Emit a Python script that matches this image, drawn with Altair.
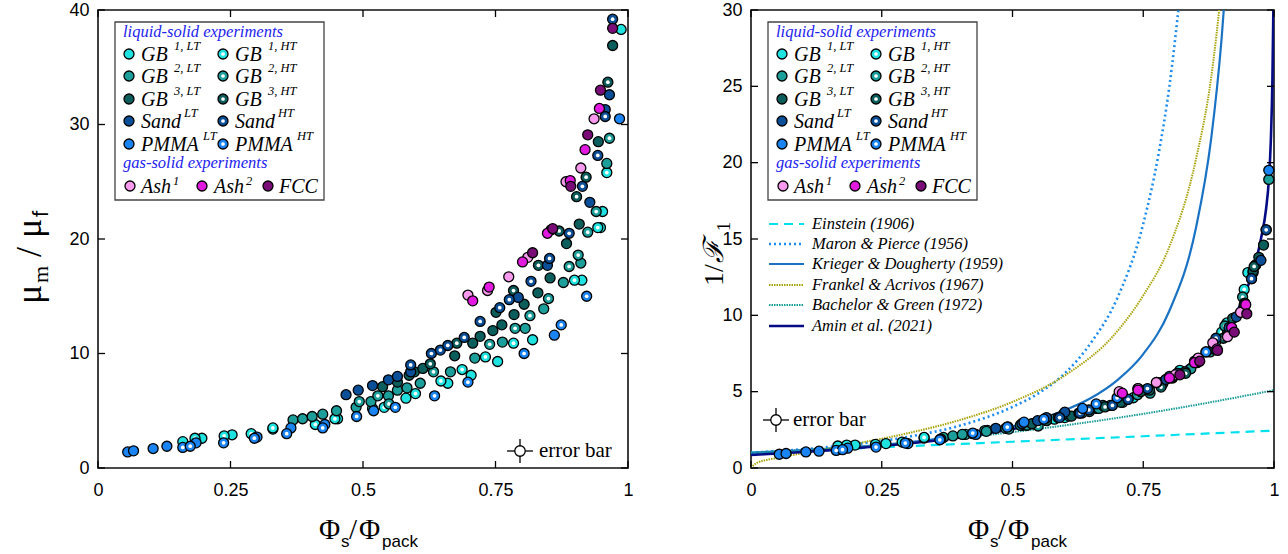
import altair as alt
import pandas as pd

SERIF = "Liberation Serif"
SANS = "Liberation Sans"

SERIES = ["GB1_LT", "GB1_HT", "GB2_LT", "GB2_HT", "GB3_LT", "GB3_HT",
          "Sand_LT", "Sand_HT", "PMMA_LT", "PMMA_HT", "Ash1", "Ash2", "FCC"]
FILLS = {"GB1_LT": "#1EE3E0", "GB1_HT": "#1EE3E0", "GB2_LT": "#1C9E9A", "GB2_HT": "#1C9E9A",
         "GB3_LT": "#0C5E5C", "GB3_HT": "#0C5E5C", "Sand_LT": "#0B4F98", "Sand_HT": "#0B4F98",
         "PMMA_LT": "#1A84F2", "PMMA_HT": "#1A84F2", "Ash1": "#F79AEE", "Ash2": "#E21ADF",
         "FCC": "#7A0C78"}

# ---------------- left panel: mu_m / mu_f ----------------
L_GB1_LT = [(0.16, 2.3), (0.196, 2.6), (0.253, 2.9), (0.33, 3.4), (0.452, 4.3), (0.518, 5.2),
            (0.581, 6.1), (0.66, 7.4), (0.704, 8.1), (0.754, 9.3), (0.82, 11.2), (0.913, 16.4),
            (0.948, 21.0), (0.952, 22.4), (0.987, 38.3)]
L_GB1_HT = [(0.183, 2.6), (0.238, 2.8), (0.289, 3.0), (0.33, 3.5), (0.41, 3.8), (0.447, 4.3),
            (0.54, 5.3), (0.599, 6.5), (0.647, 7.6), (0.687, 8.6), (0.731, 9.7), (0.784, 10.9),
            (0.899, 16.4), (0.943, 21.0), (0.96, 25.8)]
L_GB2_LT = [(0.368, 4.2), (0.386, 4.3), (0.404, 4.5), (0.424, 4.7), (0.45, 5.0), (0.487, 5.3),
            (0.515, 5.8), (0.548, 6.3), (0.565, 6.8), (0.583, 7.0), (0.608, 7.4), (0.665, 8.4),
            (0.711, 9.6), (0.763, 11.0), (0.806, 12.2), (0.841, 13.9), (0.878, 16.2),
            (0.911, 17.9), (0.96, 26.6)]
L_GB2_HT = [(0.493, 5.8), (0.528, 6.3), (0.549, 5.6), (0.633, 8.4), (0.739, 10.8), (0.787, 12.2),
            (0.815, 13.3), (0.85, 14.8), (0.889, 17.6), (0.906, 18.6), (0.924, 20.6), (0.94, 22.4),
            (0.965, 28.8)]
L_GB3_LT = [(0.537, 7.1), (0.565, 7.5), (0.587, 8.1), (0.597, 8.4), (0.613, 8.7), (0.673, 9.8),
            (0.707, 10.9), (0.721, 11.5), (0.745, 12.0), (0.751, 13.6), (0.762, 12.5), (0.785, 13.4),
            (0.804, 14.3), (0.83, 15.3), (0.853, 16.6), (0.884, 19.6), (0.908, 21.3), (0.944, 28.5),
            (0.971, 36.9)]
L_GB3_HT = [(0.627, 9.1), (0.677, 10.9), (0.784, 15.5), (0.831, 17.7), (0.87, 20.7), (0.903, 23.7),
            (0.921, 25.4), (0.962, 33.7)]
L_SAND_LT = [(0.468, 6.4), (0.491, 6.8), (0.518, 7.2), (0.548, 7.7), (0.565, 8.0), (0.59, 8.4),
             (0.793, 14.9), (0.848, 17.7), (0.928, 23.2), (0.957, 31.3), (0.965, 32.6)]
L_SAND_HT = [(0.59, 9.0), (0.629, 10.0), (0.646, 10.3), (0.66, 10.7), (0.691, 11.4), (0.721, 12.8),
             (0.758, 14.0), (0.776, 14.7), (0.817, 16.3), (0.852, 18.3), (0.889, 20.5), (0.914, 24.6),
             (0.943, 27.3), (0.957, 30.7), (0.971, 39.2)]
L_PMMA_LT = [(0.056, 1.4), (0.067, 1.5), (0.104, 1.7), (0.13, 1.9), (0.185, 2.2), (0.30, 2.7),
             (0.364, 3.5), (0.428, 3.8), (0.52, 5.0), (0.861, 11.6), (0.984, 30.5)]
L_PMMA_HT = [(0.16, 1.8), (0.174, 1.9), (0.237, 2.2), (0.295, 2.6), (0.356, 3.0), (0.424, 3.5),
             (0.488, 4.5), (0.561, 5.3), (0.635, 6.3), (0.698, 7.5), (0.804, 10.0), (0.874, 12.5),
             (0.922, 15.0)]
L_ASH1 = [(0.698, 15.1), (0.735, 15.5), (0.775, 16.7), (0.811, 18.4), (0.855, 20.8), (0.883, 25.0),
          (0.911, 26.2), (0.936, 30.5)]
L_ASH2 = [(0.707, 14.6), (0.738, 15.8), (0.801, 18.0), (0.848, 20.5), (0.891, 25.1), (0.919, 27.8),
          (0.946, 31.4)]
L_FCC = [(0.82, 18.8), (0.858, 20.9), (0.892, 24.6), (0.924, 29.1), (0.948, 33.0), (0.971, 38.4)]

LEFT = {"GB1_LT": L_GB1_LT, "GB1_HT": L_GB1_HT, "GB2_LT": L_GB2_LT, "GB2_HT": L_GB2_HT,
        "GB3_LT": L_GB3_LT, "GB3_HT": L_GB3_HT, "Sand_LT": L_SAND_LT, "Sand_HT": L_SAND_HT,
        "PMMA_LT": L_PMMA_LT, "PMMA_HT": L_PMMA_HT, "Ash1": L_ASH1, "Ash2": L_ASH2, "FCC": L_FCC}

# ---------------- right panel: 1/F1 ----------------
R_GB1_LT = [(0.166, 1.44), (0.199, 1.5), (0.258, 1.6), (0.331, 1.96), (0.452, 2.46), (0.52, 2.8),
            (0.58, 3.2), (0.66, 3.9), (0.70, 4.4), (0.82, 6.4), (0.91, 9.5), (0.95, 12.8), (0.965, 13.3)]
R_GB1_HT = [(0.183, 1.5), (0.238, 1.55), (0.289, 1.7), (0.331, 2.0), (0.41, 2.2), (0.447, 2.45),
            (0.54, 2.9), (0.6, 3.3), (0.647, 3.7), (0.687, 4.1), (0.731, 4.6), (0.784, 5.4),
            (0.9, 8.9), (0.943, 11.7)]
R_GB2_LT = [(0.368, 2.0), (0.386, 2.1), (0.404, 2.2), (0.424, 2.25), (0.45, 2.4), (0.487, 2.6),
            (0.515, 2.8), (0.548, 3.0), (0.565, 3.2), (0.608, 3.4), (0.665, 3.9), (0.711, 4.3),
            (0.763, 4.9), (0.806, 5.9), (0.841, 6.5), (0.878, 7.6), (0.911, 9.0), (0.96, 12.8),
            (0.99, 18.9)]
R_GB2_HT = [(0.493, 2.55), (0.528, 2.8), (0.549, 2.75), (0.633, 3.6), (0.739, 4.8), (0.787, 5.5),
            (0.815, 6.2), (0.85, 7.0), (0.889, 8.3), (0.906, 9.3), (0.94, 11.2), (0.965, 13.3)]
R_GB3_LT = [(0.537, 2.9), (0.565, 3.1), (0.587, 3.3), (0.597, 3.5), (0.613, 3.4), (0.673, 4.1),
            (0.707, 4.3), (0.721, 4.5), (0.745, 5.0), (0.762, 5.1), (0.785, 5.6), (0.804, 5.9),
            (0.83, 6.3), (0.853, 6.9), (0.884, 7.8), (0.908, 8.6), (0.944, 10.8), (0.96, 12.9),
            (0.971, 13.8), (0.98, 14.6)]
R_GB3_HT = [(0.627, 3.6), (0.677, 4.0), (0.784, 5.3), (0.831, 6.2), (0.87, 7.6), (0.903, 8.5),
            (0.921, 9.8), (0.962, 13.2), (0.985, 15.6)]
R_SAND_LT = [(0.468, 2.6), (0.491, 2.7), (0.518, 2.9), (0.548, 3.1), (0.565, 3.3), (0.6, 3.66),
             (0.793, 5.8), (0.848, 7.0), (0.928, 9.9), (0.957, 12.4), (0.975, 13.6)]
R_SAND_HT = [(0.59, 3.3), (0.629, 3.6), (0.646, 3.8), (0.691, 4.1), (0.721, 4.5), (0.758, 5.2),
             (0.776, 5.6), (0.817, 6.2), (0.852, 7.0), (0.889, 8.5), (0.914, 9.2), (0.943, 10.7),
             (0.957, 12.4), (0.985, 15.6)]
R_PMMA_LT = [(0.054, 0.9), (0.067, 0.95), (0.105, 1.05), (0.13, 1.1), (0.185, 1.3), (0.30, 1.6),
             (0.363, 1.9), (0.43, 2.2), (0.522, 3.0), (0.634, 3.9), (0.74, 5.2), (0.99, 19.5)]
R_PMMA_HT = [(0.163, 1.15), (0.175, 1.2), (0.239, 1.37), (0.295, 1.63), (0.361, 1.85), (0.424, 2.29),
             (0.49, 2.68), (0.56, 3.2), (0.66, 4.2), (0.70, 4.6), (0.8, 6.0), (0.87, 7.6)]
R_ASH1 = [(0.704, 5.0), (0.74, 5.2), (0.775, 5.6), (0.811, 6.1), (0.855, 7.2), (0.883, 8.2),
          (0.911, 8.6), (0.936, 10.2)]
R_ASH2 = [(0.71, 4.9), (0.74, 5.1), (0.80, 5.9), (0.848, 6.9), (0.891, 7.8), (0.919, 9.2), (0.946, 10.7)]
R_FCC = [(0.82, 6.1), (0.858, 7.0), (0.892, 7.7), (0.924, 8.9), (0.948, 10.1)]

RIGHT = {"GB1_LT": R_GB1_LT, "GB1_HT": R_GB1_HT, "GB2_LT": R_GB2_LT, "GB2_HT": R_GB2_HT,
         "GB3_LT": R_GB3_LT, "GB3_HT": R_GB3_HT, "Sand_LT": R_SAND_LT, "Sand_HT": R_SAND_HT,
         "PMMA_LT": R_PMMA_LT, "PMMA_HT": R_PMMA_HT, "Ash1": R_ASH1, "Ash2": R_ASH2, "FCC": R_FCC}

# model curves
C_EINSTEIN = [(0, 1.0), (0.25, 1.36), (0.5, 1.72), (0.75, 2.08), (1.0, 2.45)]
C_MARON = [(0, 1.0), (0.1, 1.23), (0.2, 1.56), (0.3, 2.04), (0.4, 2.78), (0.5, 4.0), (0.55, 4.9),
           (0.6, 6.2), (0.65, 8.2), (0.7, 11.1), (0.75, 16.0), (0.78, 20.7), (0.8, 25.0), (0.82, 30.9)]
C_KRIEGER = [(0, 1.0), (0.1, 1.17), (0.2, 1.38), (0.3, 1.68), (0.4, 2.1), (0.5, 2.73), (0.6, 3.78),
             (0.65, 4.58), (0.7, 5.74), (0.75, 7.46), (0.8, 10.3), (0.85, 15.6), (0.88, 21.6),
             (0.9, 28.2), (0.91, 32.8)]
C_FRANKEL = [(0, 0.0), (0.01, 0.31), (0.05, 0.66), (0.1, 0.97), (0.2, 1.59), (0.3, 2.28), (0.4, 3.15),
             (0.5, 4.33), (0.6, 6.06), (0.7, 8.94), (0.75, 11.3), (0.8, 14.5), (0.85, 20.1),
             (0.88, 25.6), (0.9, 31.5)]
C_BACHELOR = [(0, 1.0), (0.1, 1.16), (0.2, 1.37), (0.3, 1.64), (0.4, 1.97), (0.5, 2.35), (0.6, 2.79),
              (0.7, 3.28), (0.8, 3.83), (0.9, 4.44), (1.0, 5.1)]
C_AMIN = [(0, 0.85), (0.05, 0.95), (0.1, 1.05), (0.2, 1.3), (0.3, 1.6), (0.4, 2.0), (0.5, 2.55),
          (0.6, 3.3), (0.65, 3.8), (0.7, 4.3), (0.75, 5.0), (0.8, 5.9), (0.85, 7.1), (0.9, 8.8),
          (0.93, 10.3), (0.95, 11.9), (0.965, 13.5), (0.975, 15.0), (0.985, 17.0), (0.99, 18.8),
          (0.994, 21.5), (0.997, 25.5), (0.999, 30.5)]

CURVES = [  # name, points, color, dash, width
    ("Einstein (1906)", C_EINSTEIN, "#00E1EE", [9, 6], 2.2),
    ("Maron & Pierce (1956)", C_MARON, "#1C8CF0", [2, 3], 2.6),
    ("Krieger & Dougherty (1959)", C_KRIEGER, "#1A72C4", None, 2.2),
    ("Frankel & Acrivos (1967)", C_FRANKEL, "#A8A40E", [1.5, 1], 2.0),
    ("Bachelor & Green (1972)", C_BACHELOR, "#179C98", [1.5, 1], 2.0),
    ("Amin et al. (2021)", C_AMIN, "#050A85", None, 2.6),
]

X_TICKS = [0, 0.25, 0.5, 0.75, 1]
L_Y_TICKS = [0, 10, 20, 30, 40]
R_Y_TICKS = [0, 5, 10, 15, 20, 25, 30]

LEG_ITEMS = [  # series, main text, superscript, column, row, sup offset
    ("GB1_LT", "GB", "1, LT", 0, 0, 33), ("GB1_HT", "GB", "1, HT", 1, 0, 33),
    ("GB2_LT", "GB", "2, LT", 0, 1, 33), ("GB2_HT", "GB", "2, HT", 1, 1, 33),
    ("GB3_LT", "GB", "3, LT", 0, 2, 33), ("GB3_HT", "GB", "3, HT", 1, 2, 33),
    ("Sand_LT", "Sand", "LT", 0, 3, 43), ("Sand_HT", "Sand", "HT", 1, 3, 43),
    ("PMMA_LT", "PMMA", "LT", 0, 4, 62), ("PMMA_HT", "PMMA", "HT", 1, 4, 62),
]
GAS_ITEMS = [("Ash1", "Ash", "1", 32), ("Ash2", "Ash", "2", 32), ("FCC", "FCC", "", 0)]

ONE = pd.DataFrame({"k": [0]})
H = 458


def text_mark(txt, x, y, size, font=SERIF, style="normal", color="black", align="left",
              baseline="alphabetic", angle=0):
    return alt.Chart(ONE).mark_text(text=txt, font=font, fontSize=size, fontStyle=style, color=color,
                                    align=align, baseline=baseline, angle=angle).encode(
        x=alt.value(x), y=alt.value(y))


def rule_mark(x, x2, y, y2, color="black", width=1.3, dash=None):
    kw = dict(color=color, strokeWidth=width)
    if dash:
        kw["strokeDash"] = dash
    return alt.Chart(ONE).mark_rule(**kw).encode(x=alt.value(x), x2=alt.value(x2),
                                                 y=alt.value(y), y2=alt.value(y2))


def dot(x, y, fill, size, stroke=True):
    kw = dict(fill=fill, size=size, opacity=1)
    if stroke:
        kw.update(stroke="black", strokeWidth=1.3)
    return alt.Chart(ONE).mark_circle(**kw).encode(x=alt.value(x), y=alt.value(y))


def panel(data, W, ydom, yticks, curves, err, xt_x, ytitle, is_left):
    xs = alt.Scale(domain=[0, 1], nice=False, zero=False)
    ys = alt.Scale(domain=ydom, nice=False, zero=False)
    xax = alt.Axis(values=X_TICKS, format=".2~f", title=None, ticks=False, domain=False, grid=False,
                   labelFont=SANS, labelFontSize=18, labelColor="black", labelPadding=13,
                   labelFlush=False, labelOverlap=False)
    yax = alt.Axis(values=yticks, title=None, ticks=False, domain=False, grid=False,
                   labelFont=SANS, labelFontSize=18, labelColor="black", labelPadding=9,
                   labelOverlap=False)
    X = lambda f: alt.X(f + ":Q", scale=xs, axis=xax)
    Y = lambda f: alt.Y(f + ":Q", scale=ys, axis=yax)
    layers = []
    if is_left:
        layers.append(alt.Chart(ONE).mark_rect(opacity=0).encode(
            x=alt.value(-97), x2=alt.value(0), y=alt.value(-8), y2=alt.value(546)))
    # model curves
    for name, pts, col, dash, wid in curves:
        df = pd.DataFrame(pts, columns=["x", "y"])
        kw = dict(color=col, strokeWidth=wid, clip=True, interpolate="monotone")
        if dash:
            kw["strokeDash"] = dash
        layers.append(alt.Chart(df).mark_line(**kw).encode(x=X("x"), y=Y("y")))
    # data points, series by series
    for s in SERIES:
        df = pd.DataFrame(data[s], columns=["x", "y"])
        layers.append(alt.Chart(df).mark_circle(size=100, fill=FILLS[s], stroke="black",
                                                strokeWidth=1.3, opacity=1)
                      .encode(x=X("x"), y=Y("y")))
        if s.endswith("_HT"):
            layers.append(alt.Chart(df).mark_circle(size=14, fill="white", opacity=1)
                          .encode(x=X("x"), y=Y("y")))
    # inward ticks on all four sides
    xt = pd.DataFrame({"v": X_TICKS})
    yt = pd.DataFrame({"v": yticks})
    layers.append(alt.Chart(xt).mark_rule(color="black", strokeWidth=1.3).encode(
        x=X("v"), y=alt.value(H), y2=alt.value(H - 7)))
    layers.append(alt.Chart(xt).mark_rule(color="black", strokeWidth=1.3).encode(
        x=X("v"), y=alt.value(0), y2=alt.value(7)))
    layers.append(alt.Chart(yt).mark_rule(color="black", strokeWidth=1.3).encode(
        y=Y("v"), x=alt.value(0), x2=alt.value(7)))
    layers.append(alt.Chart(yt).mark_rule(color="black", strokeWidth=1.3).encode(
        y=Y("v"), x=alt.value(W), x2=alt.value(W - 7)))
    # legend box
    layers.append(alt.Chart(ONE).mark_rect(fill="white", stroke="#444", strokeWidth=1.3).encode(
        x=alt.value(17), x2=alt.value(226), y=alt.value(12), y2=alt.value(190)))
    layers.append(text_mark("liquid-solid experiments", 25, 27, 16.5, style="italic", color="#2323F0"))
    layers.append(text_mark("gas-solid experiments", 25, 158, 16.5, style="italic", color="#2323F0"))
    colx = [31, 125]
    txx = [43, 137]
    rowy = [44, 66, 89, 111, 134]
    for s, main, sup, c, r, off in LEG_ITEMS:
        layers.append(dot(colx[c], rowy[r], FILLS[s], 100))
        if s.endswith("_HT"):
            layers.append(dot(colx[c], rowy[r], "white", 14, stroke=False))
        layers.append(text_mark(main, txx[c], rowy[r] + 7, 20, style="italic"))
        layers.append(text_mark(sup, txx[c] + off, rowy[r] - 4, 12.5, style="italic"))
    gx = [32, 104, 170]
    gt = [43, 116, 181]
    for i, (s, main, sup, off) in enumerate(GAS_ITEMS):
        layers.append(dot(gx[i], 176, FILLS[s], 100))
        layers.append(text_mark(main, gt[i], 183, 20, style="italic"))
        if sup:
            layers.append(text_mark(sup, gt[i] + off, 175, 12.5, style="italic"))
    # line legend
    if not is_left:
        ly = [214, 234, 254, 275, 295, 316]
        for (name, pts, col, dash, wid), yy in zip(curves, ly):
            layers.append(rule_mark(18, 53, yy, yy, color=col, width=wid, dash=dash))
            layers.append(text_mark(name, 61, yy + 5, 16.5, style="italic"))
    # error bar symbol
    ex, ey, tx = err
    layers.append(rule_mark(ex - 13, ex + 13, ey, ey, width=1.3))
    layers.append(rule_mark(ex, ex, ey - 12, ey + 12, width=1.3))
    layers.append(dot(ex, ey, "white", 110))
    layers.append(text_mark("error bar", tx, ey, 21, baseline="middle"))
    # x title  Φs/Φpack
    layers.append(text_mark("Φ", xt_x, 529, 29))
    layers.append(text_mark("s", xt_x + 22, 537, 17, font=SANS))
    layers.append(text_mark("/", xt_x + 30, 529, 29))
    layers.append(text_mark("Φ", xt_x + 40, 529, 29))
    layers.append(text_mark("pack", xt_x + 63, 537, 17, font=SANS))
    # y title pieces (rotated)
    for txt, font, size, style, bx, y0 in ytitle:
        layers.append(text_mark(txt, bx, y0, size, font=font, style=style, angle=270))
    return alt.layer(*layers).properties(width=W, height=H)


left_title = [("μ", SERIF, 36, "normal", -57, 294), ("m", SERIF, 22, "normal", -50, 273),
              ("/", SERIF, 36, "normal", -57, 247), ("μ", SERIF, 36, "normal", -57, 228),
              ("f", SANS, 22, "normal", -50, 207)]
right_title = [("1", SERIF, 28, "normal", -28, 276), ("/", SERIF, 28, "normal", -28, 262),
               ("ℱ", SERIF, 28, "italic", -28, 253), ("1", SERIF, 18, "normal", -21, 221)]

left = panel(LEFT, 530, [0, 40], L_Y_TICKS, [], (422, 441, 441), 221, left_title, True)
right = panel(RIGHT, 523, [0, 30], R_Y_TICKS, CURVES, (25, 410, 42), 217, right_title, False)

chart = alt.hconcat(left, right, spacing=123, bounds="flush").properties(padding=0).configure_view(
    stroke="#111", strokeWidth=1.6)

chart.save("out.html", embed_options={"renderer": "svg", "actions": False})
